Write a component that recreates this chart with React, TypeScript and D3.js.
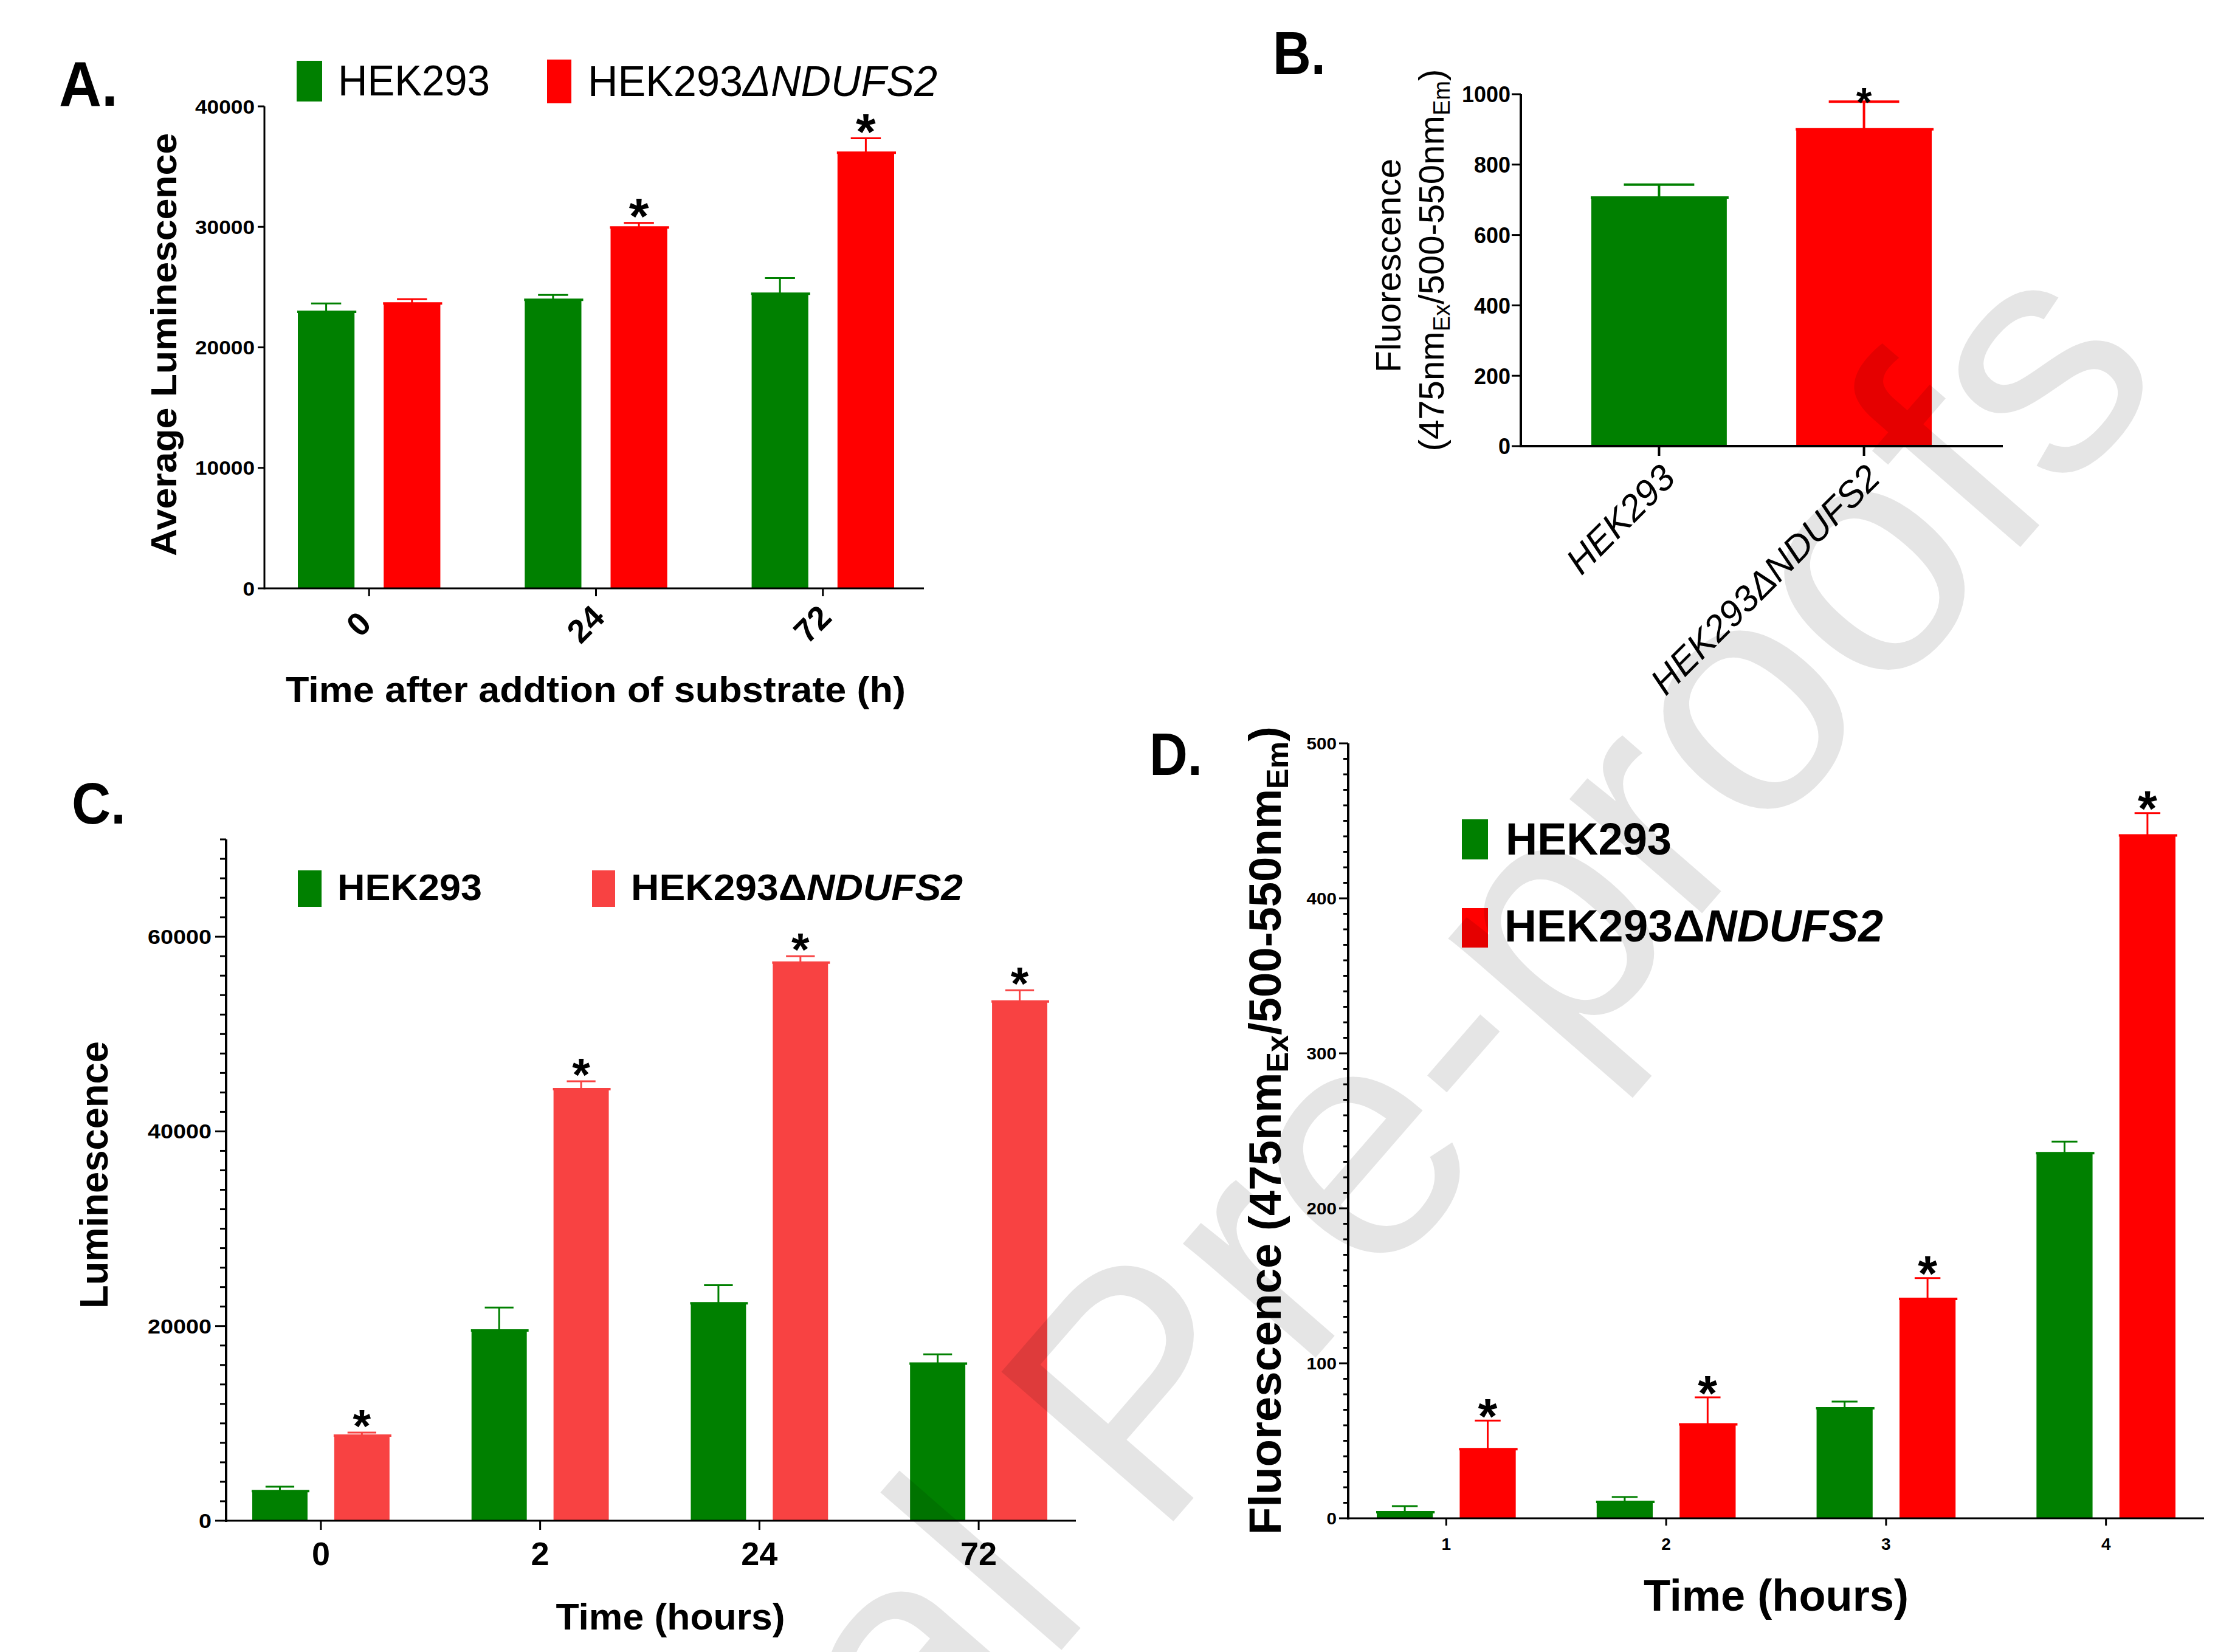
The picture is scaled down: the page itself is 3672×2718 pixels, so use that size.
import React from "react";
import * as d3 from "d3";

const W = 3672;
const H = 2718;
const FONT = "'Liberation Sans', Arial, Helvetica, sans-serif";
const GREEN = "#008000";
const RED = "#ff0000";
const RED_C = "#f84242";
const SERIES = ["HEK293", "HEK293ΔNDUFS2"];

// ---------- Panel A ----------
const aCategories = ["0", "24", "72"];
const aHek = [23000, 24000, 24500];
const aHekErr = [650, 350, 1250];
const aNdufs = [23700, 30000, 36200];
const aNdufsErr = [300, 330, 1150];
const aStars = [false, true, true];
const aYTicks = [0, 10000, 20000, 30000, 40000];

// ---------- Panel B ----------
const bCategories = ["HEK293", "HEK293ΔNDUFS2"];
const bValues = [708, 902];
const bErr = [35, 77];
const bStars = [false, true];
const bYTicks = [0, 200, 400, 600, 800, 1000];

// ---------- Panel C ----------
const cCategories = ["0", "2", "24", "72"];
const cHek = [3100, 19600, 22400, 16200];
const cHekErr = [400, 2300, 1800, 900];
const cNdufs = [8800, 44400, 57400, 53400];
const cNdufsErr = [250, 750, 600, 1100];
const cStars = [true, true, true, true];
const cYTicks = [0, 20000, 40000, 60000];

// ---------- Panel D ----------
const dCategories = ["1", "2", "3", "4"];
const dHek = [4.3, 11, 71.4, 236];
const dHekErr = [3.5, 2.7, 3.9, 7];
const dNdufs = [45, 61, 142, 441];
const dNdufsErr = [18, 17, 13, 14];
const dStars = [true, true, true, true];
const dYTicks = [0, 100, 200, 300, 400, 500];

type BarSpec = {
  key: string;
  cx: number;
  w: number;
  v: number;
  e: number;
  color: string;
  star: boolean;
};

function Bars({ bars, y, capFrac, starSize, starGap, sw }: any) {
  return (
    <g>
      {bars.map((b: BarSpec) => {
        const y0 = y(0);
        const yt = y(b.v);
        const ye = y(b.v + b.e);
        const cw = b.w * capFrac;
        return (
          <g key={b.key}>
            <rect x={b.cx - b.w / 2} y={yt} width={b.w} height={y0 - yt} fill={b.color} />
            <line x1={b.cx - b.w / 2 - 1} x2={b.cx + b.w / 2 + 3} y1={yt + 1} y2={yt + 1} stroke={b.color} strokeWidth={4} />
            <line x1={b.cx} x2={b.cx} y1={yt} y2={ye} stroke={b.color} strokeWidth={sw} />
            <line x1={b.cx - cw / 2} x2={b.cx + cw / 2} y1={ye} y2={ye} stroke={b.color} strokeWidth={sw} />
            {b.star && (
              <text
                x={b.cx}
                y={ye - starGap + 0.58 * starSize}
                fontSize={starSize}
                fontFamily={FONT}
                fontWeight="bold"
                textAnchor="middle"
                fill="#000"
              >
                *
              </text>
            )}
          </g>
        );
      })}
    </g>
  );
}

function grouped(cats: string[], s1: number[], e1: number[], s2: number[], e2: number[], stars: boolean[], x: any, x1: any, c1: string, c2: string): BarSpec[] {
  const out: BarSpec[] = [];
  cats.forEach((c, i) => {
    const gx = x(c);
    out.push({ key: c + "a", cx: gx + x1(SERIES[0]) + x1.bandwidth() / 2, w: x1.bandwidth(), v: s1[i], e: e1[i], color: c1, star: false });
    out.push({ key: c + "b", cx: gx + x1(SERIES[1]) + x1.bandwidth() / 2, w: x1.bandwidth(), v: s2[i], e: e2[i], color: c2, star: stars[i] });
  });
  return out;
}

function YAxis({ x, y, ticks, minor, majorLen, minorLen, fmt, fs, labelGap, lw, tickLens }: any) {
  const [d0, d1] = y.domain();
  return (
    <g>
      <line x1={x} x2={x} y1={y(d1)} y2={y(d0) + lw / 2} stroke="#000" strokeWidth={lw} />
      {(minor || []).map((t: number) => (
        <line key={"m" + t} x1={x - minorLen} x2={x} y1={y(t)} y2={y(t)} stroke="#000" strokeWidth={3} />
      ))}
      {ticks.map((t: number) => (
        <g key={t}>
          <line x1={x - majorLen} x2={x} y1={y(t)} y2={y(t)} stroke="#000" strokeWidth={3} />
          <text
            x={x - majorLen - labelGap}
            y={y(t) + fs * 0.36}
            fontSize={fs}
            fontFamily={FONT}
            fontWeight="bold"
            textAnchor="end"
            fill="#000"
            textLength={tickLens ? tickLens(String(t)) : undefined}
            lengthAdjust="spacingAndGlyphs"
          >
            {fmt(t)}
          </text>
        </g>
      ))}
    </g>
  );
}

function PanelA() {
  const x = d3.scaleBand<string>().domain(aCategories).range([490, 1471]).paddingInner(0.372).paddingOuter(0);
  const x1 = d3.scaleBand<string>().domain(SERIES).range([0, x.bandwidth()]).paddingInner(0.34);
  const y = d3.scaleLinear().domain([0, 40000]).range([968, 175]);
  const bars = grouped(aCategories, aHek, aHekErr, aNdufs, aNdufsErr, aStars, x, x1, GREEN, RED);
  const ax = 435;
  return (
    <g>
      <text x={97} y={174} fontSize={104} fontWeight="bold" fontFamily={FONT} textLength={97} lengthAdjust="spacingAndGlyphs">A.</text>
      <rect x={488} y={100} width={42} height={67} fill={GREEN} />
      <text x={556} y={157} fontSize={70} fontFamily={FONT} textLength={250} lengthAdjust="spacingAndGlyphs">HEK293</text>
      <rect x={900} y={98} width={40} height={72} fill={RED} />
      <text x={967} y={158} fontSize={70} fontFamily={FONT} textLength={575} lengthAdjust="spacingAndGlyphs">
        HEK293<tspan fontStyle="italic">ΔNDUFS2</tspan>
      </text>
      <Bars bars={bars} y={y} capFrac={0.53} starSize={84} starGap={30} sw={3} />
      <YAxis x={ax} y={y} ticks={aYTicks} majorLen={11} fmt={(t: number) => String(t)} fs={32} labelGap={5} lw={3}
        tickLens={(s: string) => s.length * 19.6} />
      <line x1={ax} x2={1520} y1={y(0)} y2={y(0)} stroke="#000" strokeWidth={3} />
      {aCategories.map((c) => {
        const cx = (x(c) as number) + x.bandwidth() / 2;
        return (
          <g key={c}>
            <line x1={cx} x2={cx} y1={y(0)} y2={y(0) + 13} stroke="#000" strokeWidth={3} />
            <text transform={`translate(${cx - 4},${y(0) + 72}) rotate(-45)`} fontSize={54} fontWeight="bold" fontFamily={FONT} textAnchor="middle">
              {c}
            </text>
          </g>
        );
      })}
      <text x={980} y={1155} fontSize={60} fontWeight="bold" fontFamily={FONT} textAnchor="middle" textLength={1020} lengthAdjust="spacingAndGlyphs">
        Time after addtion of substrate (h)
      </text>
      <text transform={`translate(290,567) rotate(-90)`} fontSize={60} fontWeight="bold" fontFamily={FONT} textAnchor="middle" textLength={696} lengthAdjust="spacingAndGlyphs">
        Average Luminescence
      </text>
    </g>
  );
}

function PanelB() {
  const x = d3.scaleBand<string>().domain(bCategories).range([2618, 3178]).paddingInner(0.339).paddingOuter(0);
  const y = d3.scaleLinear().domain([0, 1000]).range([734, 155]);
  const colors = [GREEN, RED];
  const bars: BarSpec[] = bCategories.map((c, i) => ({
    key: c,
    cx: (x(c) as number) + x.bandwidth() / 2,
    w: x.bandwidth(),
    v: bValues[i],
    e: bErr[i],
    color: colors[i],
    star: bStars[i],
  }));
  const ax = 2502;
  return (
    <g>
      <text x={2094} y={122} fontSize={100} fontWeight="bold" fontFamily={FONT} textLength={87} lengthAdjust="spacingAndGlyphs">B.</text>
      <Bars bars={bars} y={y} capFrac={0.52} starSize={66} starGap={14} sw={4} />
      <YAxis x={ax} y={y} ticks={bYTicks} majorLen={15} fmt={(t: number) => String(t)} fs={37} labelGap={2} lw={4}
        tickLens={(s: string) => s.length * 20} />
      <line x1={ax} x2={3295} y1={y(0)} y2={y(0)} stroke="#000" strokeWidth={4} />
      {bCategories.map((c, i) => {
        const cx = (x(c) as number) + x.bandwidth() / 2;
        return (
          <g key={c}>
            <line x1={cx} x2={cx} y1={y(0)} y2={y(0) + 16} stroke="#000" strokeWidth={4} />
            <text transform={`translate(${cx + 30},${y(0) + 56}) rotate(-45)`} fontSize={60} fontStyle="italic" fontFamily={FONT} textAnchor="end">
              {c}
            </text>
          </g>
        );
      })}
      <text transform={`translate(2304,437) rotate(-90)`} fontSize={58} fontFamily={FONT} textAnchor="middle" textLength={352} lengthAdjust="spacingAndGlyphs">
        Fluorescence
      </text>
      <text transform={`translate(2375,428) rotate(-90)`} fontSize={58} fontFamily={FONT} textAnchor="middle" textLength={629} lengthAdjust="spacingAndGlyphs">
        (475nm<tspan fontSize={38} dy={10}>Ex</tspan>
        <tspan dy={-10}>/500-550nm</tspan>
        <tspan fontSize={38} dy={10}>Em</tspan>
        <tspan dy={-10}>)</tspan>
      </text>
    </g>
  );
}

function PanelC() {
  const x = d3.scaleBand<string>().domain(cCategories).range([415, 1723]).paddingInner(0.374).paddingOuter(0);
  const x1 = d3.scaleBand<string>().domain(SERIES).range([0, x.bandwidth()]).paddingInner(0.326);
  const y = d3.scaleLinear().domain([0, 70000]).range([2502, 1381]);
  const bars = grouped(cCategories, cHek, cHekErr, cNdufs, cNdufsErr, cStars, x, x1, GREEN, RED_C);
  const minor = d3.range(0, 70001, 2000).filter((t) => t % 20000 !== 0);
  const ax = 372;
  return (
    <g>
      <text x={118} y={1355} fontSize={96} fontWeight="bold" fontFamily={FONT} textLength={89} lengthAdjust="spacingAndGlyphs">C.</text>
      <rect x={490} y={1432} width={39} height={60} fill={GREEN} />
      <text x={555} y={1481} fontSize={61} fontWeight="bold" fontFamily={FONT} textLength={238} lengthAdjust="spacingAndGlyphs">HEK293</text>
      <rect x={974} y={1432} width={38} height={60} fill={RED_C} />
      <text x={1038} y={1481} fontSize={61} fontWeight="bold" fontFamily={FONT} textLength={546} lengthAdjust="spacingAndGlyphs">
        HEK293Δ<tspan fontStyle="italic">NDUFS2</tspan>
      </text>
      <Bars bars={bars} y={y} capFrac={0.52} starSize={76} starGap={29} sw={3} />
      <YAxis x={ax} y={y} ticks={cYTicks} minor={minor} majorLen={18} minorLen={10} fmt={(t: number) => String(t)} fs={33} labelGap={6} lw={4}
        tickLens={(s: string) => s.length * 21} />
      <line x1={ax} x2={1770} y1={y(0)} y2={y(0)} stroke="#000" strokeWidth={3} />
      {cCategories.map((c) => {
        const cx = (x(c) as number) + x.bandwidth() / 2;
        return (
          <g key={c}>
            <line x1={cx} x2={cx} y1={y(0)} y2={y(0) + 15} stroke="#000" strokeWidth={3} />
            <text x={cx} y={2575} fontSize={54} fontWeight="bold" fontFamily={FONT} textAnchor="middle">
              {c}
            </text>
          </g>
        );
      })}
      <text x={1103} y={2681} fontSize={62} fontWeight="bold" fontFamily={FONT} textAnchor="middle" textLength={377} lengthAdjust="spacingAndGlyphs">
        Time (hours)
      </text>
      <text transform={`translate(177,1933) rotate(-90)`} fontSize={65} fontWeight="bold" fontFamily={FONT} textAnchor="middle" textLength={440} lengthAdjust="spacingAndGlyphs">
        Luminescence
      </text>
    </g>
  );
}

function PanelD() {
  const x = d3.scaleBand<string>().domain(dCategories).range([2265, 3579]).paddingInner(0.368).paddingOuter(0);
  const x1 = d3.scaleBand<string>().domain(SERIES).range([0, x.bandwidth()]).paddingInner(0.324);
  const y = d3.scaleLinear().domain([0, 500]).range([2498, 1223]);
  const bars = grouped(dCategories, dHek, dHekErr, dNdufs, dNdufsErr, dStars, x, x1, GREEN, RED);
  const minor = d3.range(0, 501, 10).filter((t) => t % 100 !== 0);
  const ax = 2218;
  return (
    <g>
      <text x={1891} y={1275} fontSize={98} fontWeight="bold" fontFamily={FONT} textLength={87} lengthAdjust="spacingAndGlyphs">D.</text>
      <rect x={2405} y={1348} width={43} height={66} fill={GREEN} />
      <text x={2477} y={1406} fontSize={74} fontWeight="bold" fontFamily={FONT} textLength={273} lengthAdjust="spacingAndGlyphs">HEK293</text>
      <rect x={2405} y={1494} width={43} height={65} fill={RED} />
      <text x={2475} y={1549} fontSize={74} fontWeight="bold" fontFamily={FONT} textLength={623} lengthAdjust="spacingAndGlyphs">
        HEK293Δ<tspan fontStyle="italic">NDUFS2</tspan>
      </text>
      <Bars bars={bars} y={y} capFrac={0.46} starSize={82} starGap={27} sw={3} />
      <YAxis x={ax} y={y} ticks={dYTicks} minor={minor} majorLen={15} minorLen={8} fmt={(t: number) => String(t)} fs={28} labelGap={4} lw={4}
        tickLens={(s: string) => s.length * 16.5} />
      <line x1={ax} x2={3626} y1={y(0)} y2={y(0)} stroke="#000" strokeWidth={3} />
      {dCategories.map((c) => {
        const cx = (x(c) as number) + x.bandwidth() / 2;
        return (
          <g key={c}>
            <line x1={cx} x2={cx} y1={y(0)} y2={y(0) + 12} stroke="#000" strokeWidth={3} />
            <text x={cx} y={2550} fontSize={28} fontWeight="bold" fontFamily={FONT} textAnchor="middle">
              {c}
            </text>
          </g>
        );
      })}
      <text x={2922} y={2650} fontSize={72} fontWeight="bold" fontFamily={FONT} textAnchor="middle" textLength={436} lengthAdjust="spacingAndGlyphs">
        Time (hours)
      </text>
      <text transform={`translate(2107,1860) rotate(-90)`} fontSize={74} fontWeight="bold" fontFamily={FONT} textAnchor="middle" textLength={1330} lengthAdjust="spacingAndGlyphs">
        Fluorescence (475nm<tspan fontSize={50} dy={12}>Ex</tspan>
        <tspan dy={-12}>/500-550nm</tspan>
        <tspan fontSize={50} dy={12}>Em</tspan>
        <tspan dy={-12}>)</tspan>
      </text>
    </g>
  );
}

function Watermark() {
  return (
    <text
      transform={`translate(629,4000) rotate(-49)`}
      fontSize={545}
      fontFamily={FONT}
      fill="#000"
      fillOpacity={0.1}
    >
      Journal Pre-proofs
    </text>
  );
}

export default function App() {
  return (
    <svg
      width={W}
      height={H}
      viewBox={`0 0 ${W} ${H}`}
      style={{ position: "absolute", left: 0, top: 0, background: "#fff" }}
    >
      <rect x={0} y={0} width={W} height={H} fill="#fff" />
      <PanelA />
      <PanelB />
      <PanelC />
      <PanelD />
      <Watermark />
    </svg>
  );
}
